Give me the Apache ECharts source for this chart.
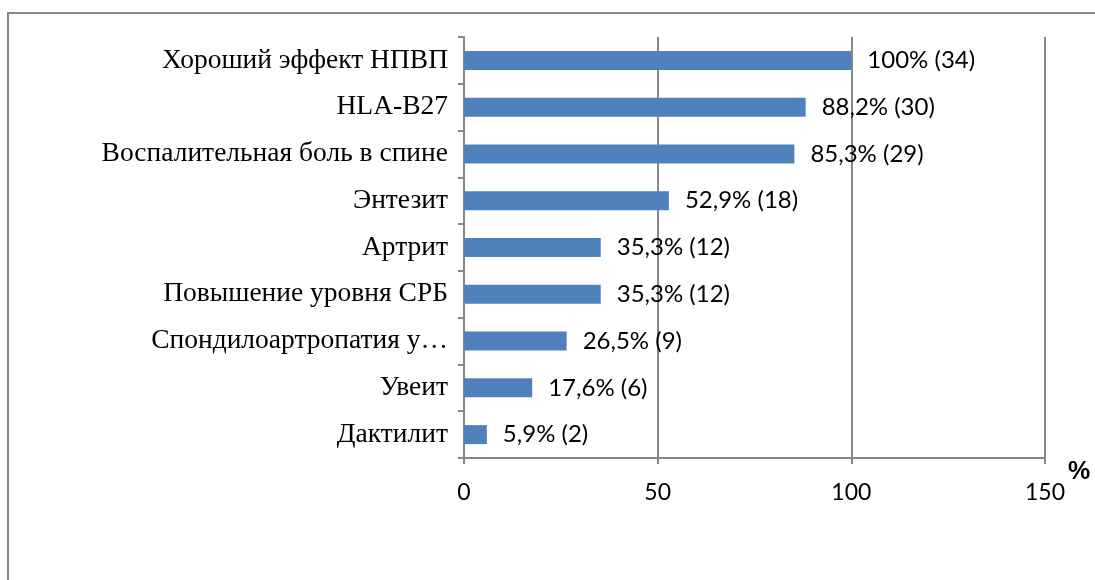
<!DOCTYPE html>
<html><head><meta charset="utf-8">
<script src="https://cdn.jsdelivr.net/npm/echarts@6/dist/echarts.min.js"></script>
<style>html,body{margin:0;padding:0;background:#fff}#c{width:1095px;height:580px}</style>
</head><body><div id="c"></div>
<script>
const categories = ["Хороший эффект НПВП","HLA-B27","Воспалительная боль в спине","Энтезит","Артрит","Повышение уровня СРБ","Спондилоартропатия у…","Увеит","Дактилит"];
const values = [100, 88.2, 85.3, 52.9, 35.3, 35.3, 26.5, 17.6, 5.9];
const counts = [34, 30, 29, 18, 12, 12, 9, 6, 2];
const xTicks = [0, 50, 100, 150];

const chart = echarts.init(document.getElementById('c'), null, {renderer:'canvas'});
const cats = categories.slice().reverse();
const vals = values.slice().reverse();
const cnts = counts.slice().reverse();
chart.setOption({
  animation:false,
  backgroundColor:'#fff',
  graphic:[
    {type:'rect', shape:{x:8,y:13,width:1100,height:600}, style:{fill:'none',stroke:'#878787',lineWidth:2}},
    {type:'text', x:1068, y:460, style:{text:'%', font:'bold 25px "Liberation Sans"', fill:'#000'}}
  ],
  grid:{left:464, right:50, top:37, bottom:122, containLabel:false},
  xAxis:{type:'value', min:xTicks[0], max:xTicks[xTicks.length-1], interval:50,
    axisLine:{show:true, lineStyle:{color:'#878787', width:2}},
    axisTick:{show:true, length:6, lineStyle:{color:'#878787', width:2}},
    axisLabel:{color:'#000', fontSize:23, fontFamily:'Lato, "Open Sans", sans-serif', margin:23},
    splitLine:{show:true, lineStyle:{color:'#878787', width:2}}
  },
  yAxis:{type:'category', data:cats,
    axisLine:{show:true, lineStyle:{color:'#878787', width:2}},
    axisTick:{show:true, length:6, lineStyle:{color:'#878787', width:2}},
    axisLabel:{color:'#000', fontSize:27.5, fontFamily:'"Liberation Serif", "DejaVu Serif", serif', margin:16}
  },
  series:[{type:'bar', data:vals, barWidth:19, itemStyle:{color:'#4F81BD'},
    label:{show:true, position:'right', distance:16, color:'#000', fontSize:24,
      fontFamily:'Lato, "Open Sans", sans-serif',
      formatter:p=>String(p.value).replace('.',',')+'% ('+cnts[p.dataIndex]+')'}
  }]
});
</script></body></html>
